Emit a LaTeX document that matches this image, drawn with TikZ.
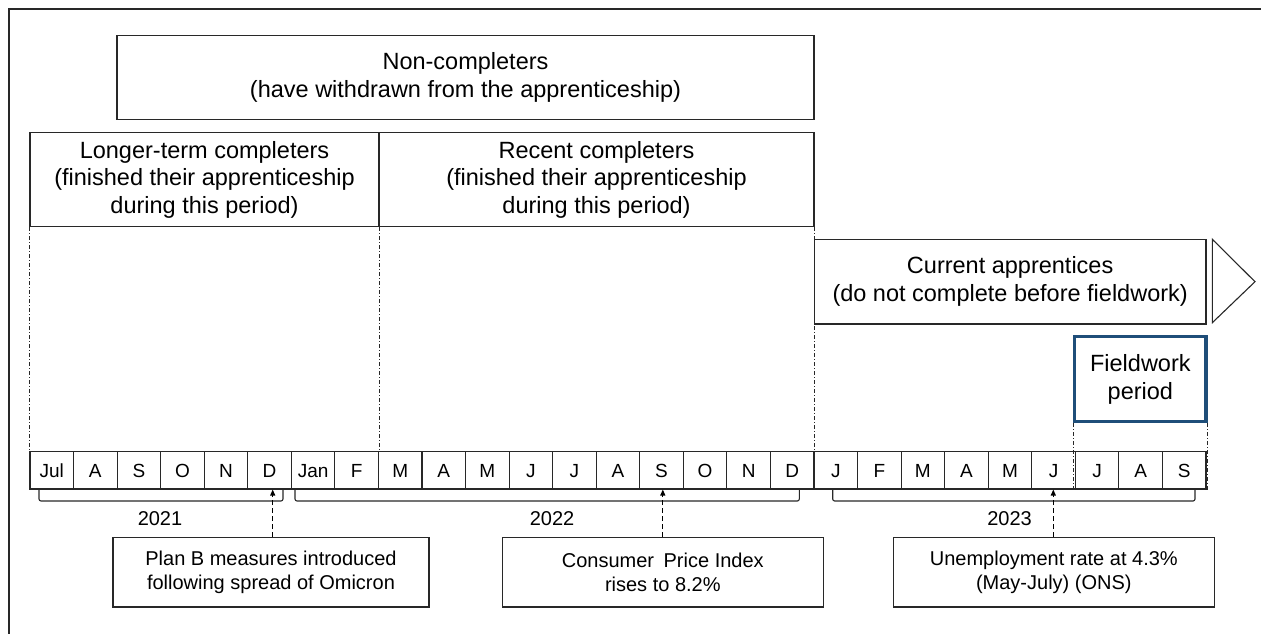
\documentclass[tikz,border=0pt]{standalone}
\usepackage{fontspec}
\setmainfont{Liberation Sans}
\usetikzlibrary{arrows.meta}
\definecolor{fwblue}{RGB}{31,78,121}
\definecolor{ink}{RGB}{40,40,40}
\begin{document}
\begin{tikzpicture}[x=1pt,y=-1pt,
  bigbox/.style={draw=ink,line width=1.2pt,inner sep=0pt,align=center,
    font=\fontsize{23.5}{27.5}\selectfont},
  callout/.style={draw=ink,line width=1.2pt,inner sep=0pt,align=center,
    minimum width=321pt,minimum height=69.3pt,
    font=\fontsize{20}{23.5}\selectfont},
  cell/.style={draw=ink,line width=1.1pt,inner sep=0pt,
    minimum width=43.556pt,minimum height=37.5pt,
    text height=13.6pt,text depth=0pt,
    font=\fontsize{19}{22}\selectfont},
  yearlab/.style={inner sep=0pt,font=\fontsize{20}{23}\selectfont},
  dashdot/.style={draw=ink,line width=0.6pt,dash pattern=on 4pt off 2pt on 1pt off 2pt},
  bracketline/.style={draw=ink,line width=1.1pt,rounded corners=2pt},
  evarrow/.style={draw=black,line width=1.2pt,dash pattern=on 5pt off 3pt,
    -{Triangle[length=6pt,width=5pt]}},
  framestyle/.style={draw=ink,line width=2pt}
]
\useasboundingbox (0,0) rectangle (1261,634);
\fill[white] (0,0) rectangle (1261,634);

% outer frame (only top and left edges visible)
\draw[framestyle] (9,640) -- (9,9) -- (1270,9);

% top boxes
\node[bigbox,minimum width=697pt,minimum height=83.6pt] (nc) at (465.5,77.5)
  {Non-completers\\(have withdrawn from the apprenticeship)};
\node[bigbox,minimum width=349pt,minimum height=94pt] (lt) at (204.5,179.7)
  {Longer-term completers\\(finished their apprenticeship\\during this period)};
\node[bigbox,minimum width=435pt,minimum height=94pt] (rc) at (596.5,179.7)
  {Recent completers\\(finished their apprenticeship\\during this period)};
\node[bigbox,minimum width=391.7pt,minimum height=84.7pt] (ca) at (1010.15,281.65)
  {Current apprentices\\(do not complete before fieldwork)};
\node[bigbox,draw=fwblue,line width=3.3pt,minimum width=131.3pt,minimum height=85pt] (fw)
  at (1140.35,379.2) {Fieldwork\\period};

% open triangle arrow head
\draw[draw=ink,line width=1.1pt,line join=miter] (1212.3,239.3) -- (1255,281.7) -- (1212.3,322.7) -- cycle;

% month cells
\foreach \lab [count=\i from 0] in {Jul,A,S,O,N,D,Jan,F,M,A,M,J,J,A,S,O,N,D,J,F,M,A,M,J,J,A,S}{
  \node[cell] (m\i) at ({51.778+43.556*\i},470.25) {\lab};
}

% dash-dot guide lines
\draw[dashdot] (lt.south west) -- (lt.south west |- m0.north);
\draw[dashdot] (lt.south east) -- (lt.south east |- m0.north);
\draw[dashdot] (rc.south east) -- (rc.south east |- m0.north);
\draw[dashdot] (fw.south west) -- (fw.south west |- m24.south);
\draw[dashdot] (fw.south east) -- (fw.south east |- m26.south);

% year brackets
\coordinate (b1a) at (39,489);   \coordinate (b1b) at (283,489);
\coordinate (b2a) at (295,489);  \coordinate (b2b) at (799.3,489);
\coordinate (b3a) at (832.7,489);\coordinate (b3b) at (1195,489);
\draw[bracketline] (b1a) -- ++(0,12) -| (b1b);
\draw[bracketline] (b2a) -- ++(0,12) -| (b2b);
\draw[bracketline] (b3a) -- ++(0,12) -| (b3b);
\node[yearlab] (y1) at (160,518.5) {2021};
\node[yearlab] (y2) at (552,518.5) {2022};
\node[yearlab] (y3) at (1009.5,518.5) {2023};

% callouts
\node[callout,minimum width=316pt] (pb) at (271,572.35)
  {Plan B measures introduced\\following spread of Omicron};
\node[callout] (cpi) at (662.8,572.35)
  {Consumer\hspace{0.2em} Price Index\\rises to 8.2\%};
\node[callout] (un) at (1053.8,572.35)
  {Unemployment rate at 4.3\%\\(May-July) (ONS)};

% event arrows
\draw[evarrow] ([xshift=1.7pt]pb.north) -- ([xshift=1.7pt]pb.north |- m5.south);
\draw[evarrow] (cpi.north) -- (cpi.north |- m14.south);
\draw[evarrow] ([xshift=-0.5pt]un.north) -- ([xshift=-0.5pt]un.north |- m23.south);
\end{tikzpicture}
\end{document}
